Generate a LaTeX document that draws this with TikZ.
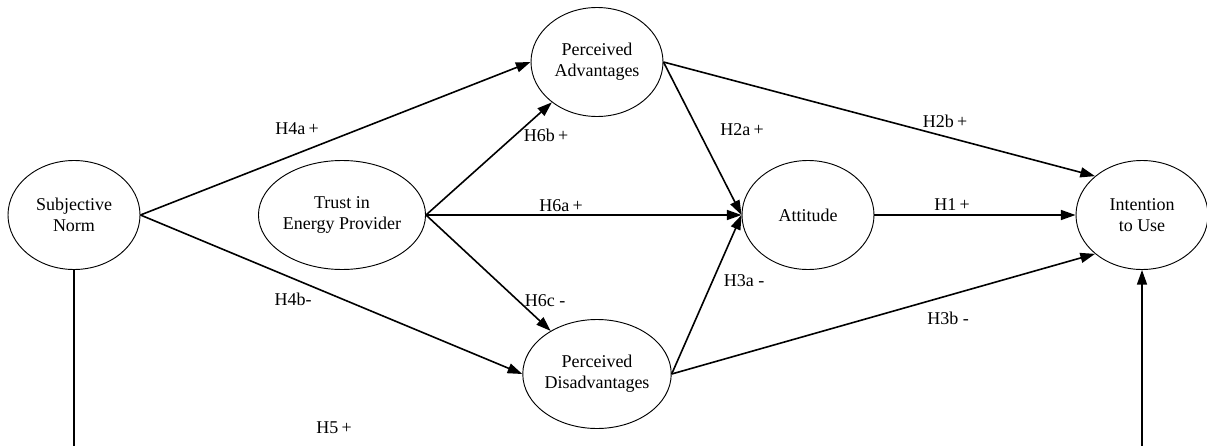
\documentclass[tikz,border=0pt]{standalone}
\usepackage{fontspec}
\setmainfont{Liberation Serif}
\usetikzlibrary{shapes.geometric,arrows.meta}

\tikzset{
  ell/.style={draw, ellipse, line width=0.7pt, minimum width=99pt, minimum height=81.75pt,
    inner sep=0pt, align=center, font=\fontsize{13.5}{15.75}\selectfont},
  lbl/.style={inner sep=0.75pt, font=\fontsize{13.5}{15.75}\selectfont},
  arr/.style={line width=1.2pt, -{Triangle[length=11pt,width=7.5pt]}}
}

\begin{document}
\begin{tikzpicture}[x=0.75pt,y=0.75pt,yscale=-1,xscale=1]
\useasboundingbox (0,0) rectangle (1207,446);

% Constructs
\node[ell] (SN) at (74,215) {Subjective\\Norm};
\node[ell] (TEP) at (342,215) {Trust in\\Energy Provider};
\node[ell] (PA) at (597,62) {Perceived\\Advantages};
\node[ell] (PD) at (597,374) {Perceived\\Disadvantages};
\node[ell] (ATT) at (808,215) {Attitude};
\node[ell] (ITU) at (1142,215) {Intention\\to Use};

% bottom path corners
\coordinate (bl) at (74,446.4);
\coordinate (br) at (1142,446.4);

%Straight Lines
\draw[arr] (SN.east) -- (PA.west);
\draw[arr] (SN.east) -- (PD.west);
\draw[arr] (TEP.east) -- (PA);
\draw[arr] (TEP.east) -- (ATT.west);
\draw[arr] (TEP.east) -- (PD);
\draw[arr] (PA.east) -- (ATT.west);
\draw[arr] (PD.east) -- (ATT.west);
\draw[arr] (PA.east) -- (ITU.north west);
\draw[arr] (ATT.east) -- (ITU.west);
\draw[arr] (PD.east) -- (ITU.south west);
\draw[arr] (SN.south) -- (bl) -- (br) -- (ITU.south);

% Text Node
\node[lbl] (h4a) at (297,129) {H4a\hspace{0.18em}+};
% Text Node
\node[lbl] (h6b) at (546,135) {H6b\hspace{0.18em}+};
% Text Node
\node[lbl] (h2a) at (742,130) {H2a\hspace{0.18em}+};
% Text Node
\node[lbl] (h2b) at (945,121) {H2b\hspace{0.18em}+};
% Text Node
\node[lbl] (h6a) at (561,206) {H6a\hspace{0.18em}+};
% Text Node
\node[lbl] (h1) at (952,205) {H1\hspace{0.18em}+};
% Text Node
\node[lbl] (h4b) at (293,299) {H4b-};
% Text Node
\node[lbl] (h6c) at (545,301) {H6c -};
% Text Node
\node[lbl] (h3a) at (744,281) {H3a -};
% Text Node
\node[lbl] (h3b) at (948,318) {H3b -};
% Text Node
\node[lbl] (h5) at (334,428) {H5\hspace{0.18em}+};

\end{tikzpicture}
\end{document}
